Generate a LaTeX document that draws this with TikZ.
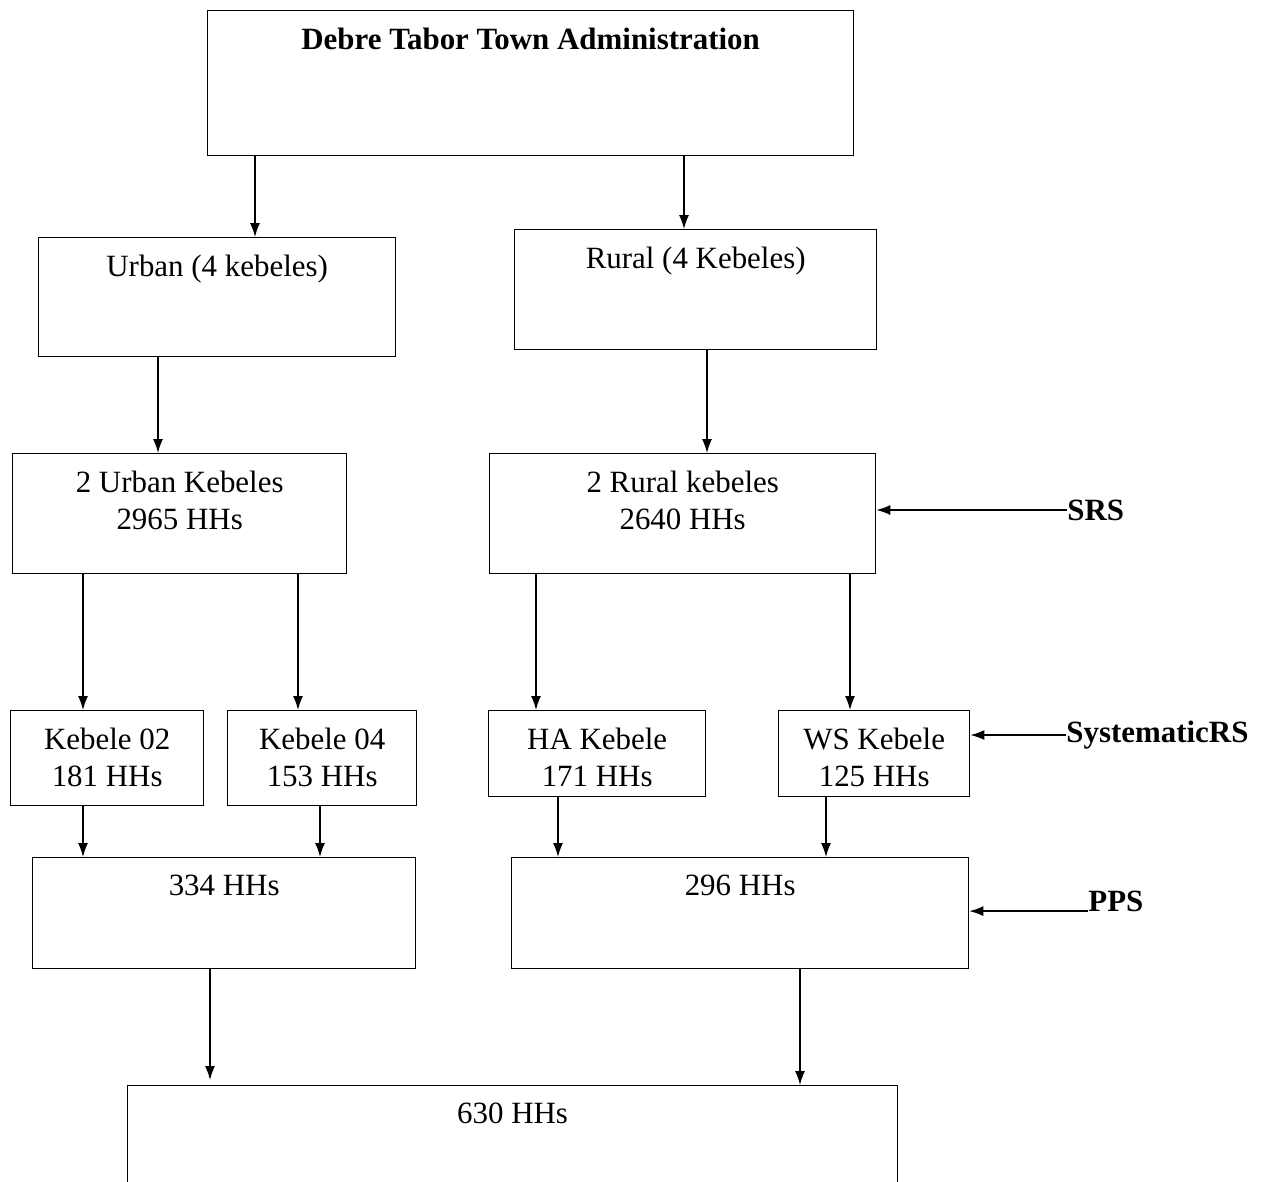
\documentclass[tikz,border=0pt]{standalone}
\usepackage{fontspec}
\setmainfont{Liberation Serif}
\usetikzlibrary{arrows.meta}

\newcommand\boxfont{\fontsize{17.6}{20.6}\selectfont}

\begin{document}
\begin{tikzpicture}[x=0.02cm, y=-0.02cm,
        every node/.style={font=\boxfont},
        box/.style={draw=black, line width=0.8pt, rectangle, anchor=north west, inner sep=0},
        lbl/.style={anchor=north, inner sep=0, yshift=-0.36cm, align=center},
        arr/.style={line width=0.8pt, -{Latex[length=0.28cm, width=0.2cm]}},
        side/.style={font=\boxfont\bfseries, anchor=west, inner sep=0}]
        \useasboundingbox (0,0) rectangle (1266,1181);
        \clip (0,0) rectangle (1266,1181);

        % boxes
        \node[box, minimum width=12.92cm, minimum height=2.9cm,
            label={[lbl, name=adminL, font=\boxfont\bfseries]north:Debre Tabor Town Administration}] (admin) at (207,10) {};
        \node[box, minimum width=7.14cm, minimum height=2.38cm,
            label={[lbl, name=urbanL]north:Urban (4 kebeles)}] (urban) at (38,237) {};
        \node[box, minimum width=7.24cm, minimum height=2.4cm,
            label={[lbl, name=ruralL]north:Rural (4 Kebeles)}] (rural) at (514,229) {};
        \node[box, minimum width=6.68cm, minimum height=2.4cm,
            label={[lbl, name=urbanTwoL]north:{2 Urban Kebeles\\2965 HHs}}] (urbanTwo) at (12,453) {};
        \node[box, minimum width=7.72cm, minimum height=2.4cm,
            label={[lbl, name=ruralTwoL]north:{2 Rural kebeles\\2640 HHs}}] (ruralTwo) at (489,453) {};
        \node[box, minimum width=3.86cm, minimum height=1.9cm,
            label={[lbl, name=kebTwoL]north:{Kebele 02\\181 HHs}}] (kebTwo) at (10,710) {};
        \node[box, minimum width=3.78cm, minimum height=1.9cm,
            label={[lbl, name=kebFourL]north:{Kebele 04\\153 HHs}}] (kebFour) at (227,710) {};
        \node[box, minimum width=4.34cm, minimum height=1.72cm,
            label={[lbl, name=haL]north:{HA Kebele\\171 HHs}}] (ha) at (488,710) {};
        \node[box, minimum width=3.82cm, minimum height=1.72cm,
            label={[lbl, name=wsL]north:{WS Kebele\\125 HHs}}] (ws) at (778,710) {};
        \node[box, minimum width=7.66cm, minimum height=2.22cm,
            label={[lbl, name=urbanSumL]north:334 HHs}] (urbanSum) at (32,857) {};
        \node[box, minimum width=9.14cm, minimum height=2.22cm,
            label={[lbl, name=ruralSumL]north:296 HHs}] (ruralSum) at (511,857) {};
        \node[box, minimum width=15.4cm, minimum height=3.4cm,
            label={[lbl, name=totalL]north:630 HHs}] (total) at (127,1085) {};

        % sampling methods
        \node[side] (srs) at (1067,510) {SRS};
        \node[side] (sys) at (1066,735) {SystematicRS};
        \node[side] (pps) at (1088,901) {PPS};

        % x positions of the arrows
        \foreach \nm/\xx in {xa/255, xb/684, xc/158, xd/707, xe/83, xf/298,
                xg/536, xh/850, xi/320, xj/558, xk/826, xl/210, xm/800}
            \coordinate (\nm) at (\xx,0);

        \path[arr]
            (admin.south -| xa) edge (urban.north -| xa)
            (admin.south -| xb) edge (rural.north -| xb)
            (urban.south -| xc) edge (urbanTwo.north -| xc)
            (rural.south -| xd) edge (ruralTwo.north -| xd)
            (urbanTwo.south -| xe) edge (kebTwo.north -| xe)
            (urbanTwo.south -| xf) edge (kebFour.north -| xf)
            (ruralTwo.south -| xg) edge (ha.north -| xg)
            (ruralTwo.south -| xh) edge (ws.north -| xh)
            (kebTwo.south -| xe) edge (urbanSum.north -| xe)
            (kebFour.south -| xi) edge (urbanSum.north -| xi)
            (ha.south -| xj) edge (ruralSum.north -| xj)
            (ws.south -| xk) edge (ruralSum.north -| xk)
            (urbanSum.south -| xl) edge ([yshift=0.1cm]total.north -| xl)
            (ruralSum.south -| xm) edge (total.north -| xm)
            (srs.west) edge (srs.west -| ruralTwo.east)
            (sys.west) edge (sys.west -| ws.east)
            (pps.base west) edge (pps.base west -| ruralSum.east);
\end{tikzpicture}
\end{document}
